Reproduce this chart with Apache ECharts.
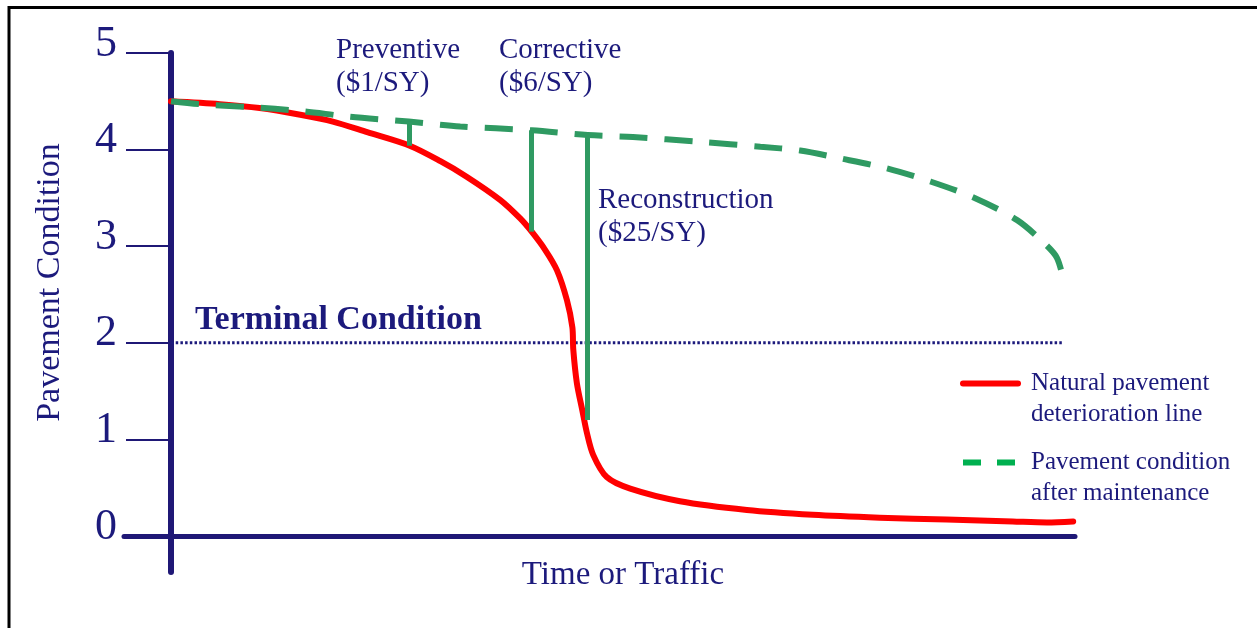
<!DOCTYPE html>
<html><head><meta charset="utf-8">
<script src="https://cdn.jsdelivr.net/npm/echarts@6/dist/echarts.min.js"></script>
<style>html,body{margin:0;padding:0;background:#fff}#c{width:1257px;height:628px}</style>
</head><body><div id="c"></div>
<script>
// ---- data ----
const yTicks = [0, 1, 2, 3, 4, 5];
const naturalX = [0, 5.4, 9.8, 14.3, 17.9, 21.7, 26.4, 29.8, 32.7, 36.4, 38.6, 39.9, 41.4, 42.7, 43.8, 44.4, 44.5, 44.9, 45.5, 46.0, 46.7, 48.2, 50.8, 56.3, 63.7, 71.0, 78.4, 85.8, 93.1, 96.9, 99.8];
const naturalY = [4.50, 4.47, 4.43, 4.36, 4.29, 4.18, 4.04, 3.88, 3.72, 3.48, 3.29, 3.15, 2.96, 2.75, 2.44, 2.16, 1.93, 1.58, 1.30, 1.07, 0.84, 0.61, 0.49, 0.36, 0.27, 0.22, 0.19, 0.17, 0.15, 0.14, 0.15];
const maintainedX = [0, 3.2, 8.7, 14.3, 19.8, 26.3, 32.0, 39.9, 46.1, 51.1, 58.5, 65.2, 69.6, 74.0, 79.0, 84.0, 88.9, 93.6, 96.5, 98.0, 98.8];
const maintainedY = [4.50, 4.47, 4.44, 4.40, 4.34, 4.29, 4.24, 4.20, 4.15, 4.13, 4.08, 4.03, 3.99, 3.91, 3.81, 3.67, 3.50, 3.27, 3.04, 2.88, 2.62];
const treatmentNames = ['Preventive', 'Corrective', 'Reconstruction'];
const treatmentCosts = ['($1/SY)', '($6/SY)', '($25/SY)'];
const treatmentX = [26.3, 39.9, 46.1];
const treatmentFrom = [4.04, 3.15, 1.20];
const treatmentTo = [4.29, 4.20, 4.15];
const terminalValue = 2;
const terminalX = [0, 98.6];
const seriesNames = ['Natural pavement\ndeterioration line', 'Pavement condition\nafter maintenance'];

// ---- chart ----
const NAVY = '#1c1a7c';
const AXIS = '#1f1876';
const RED = '#ff0000';
const GREEN = '#2f9a62';
const SERIF = "'Liberation Serif','DejaVu Serif',serif";

const zip = (xs, ys) => xs.map((x, i) => [x, ys[i]]);
const chart = echarts.init(document.getElementById('c'), null, {renderer: 'canvas'});

const legendBase = {
  orient: 'vertical', left: 960, padding: 0, itemWidth: 55, itemHeight: 10, selectedMode: false,
  itemStyle: {opacity: 0},
  formatter: name => '\n' + name,
  textStyle: {fontFamily: SERIF, fontSize: 25, color: NAVY, lineHeight: 31, padding: [0, 0, 0, 8]}
};

chart.setOption({
  animation: false,
  backgroundColor: '#fff',
  grid: {left: 124, right: 182, top: 53, bottom: 56, containLabel: false, outerBoundsMode: 'none'},
  xAxis: {
    type: 'value', min: -5.2, max: 100,
    name: 'Time or Traffic', nameLocation: 'middle', nameGap: -13, nameMoveOverlap: false,
    nameTextStyle: {fontFamily: SERIF, fontSize: 33, color: NAVY, verticalAlign: 'top', padding: [0, 0, 0, 47]},
    axisLine: {onZero: true, lineStyle: {color: AXIS, width: 5}},
    axisTick: {show: false}, axisLabel: {show: false}, splitLine: {show: false}
  },
  yAxis: {
    type: 'value', min: -0.3727, max: 5,
    name: 'Pavement Condition', nameLocation: 'middle', nameGap: 57, nameRotate: 90, nameMoveOverlap: false,
    nameTextStyle: {fontFamily: SERIF, fontSize: 34, color: NAVY, padding: [0, 0, 0, 60]},
    axisLine: {show: true, onZero: true, lineStyle: {color: AXIS, width: 6}},
    axisTick: {show: true, length: 45, customValues: yTicks, lineStyle: {color: AXIS, width: 2}},
    axisLabel: {customValues: yTicks, margin: 7, fontFamily: SERIF, fontSize: 44, color: NAVY,
      verticalAlign: 'bottom', lineHeight: 18},
    splitLine: {show: false}
  },
  legend: [
    Object.assign({}, legendBase, {top: 337, data: [{name: seriesNames[0], lineStyle: {color: RED, width: 6, type: 'solid'}}]}),
    Object.assign({}, legendBase, {top: 416, data: [{name: seriesNames[1], lineStyle: {color: '#00b050', width: 6, type: [18, 16]}}]})
  ],
  series: [
    {
      name: 'Terminal Condition', type: 'line', symbol: 'none', silent: true, z: 1,
      data: terminalX.map(x => [x, terminalValue]),
      lineStyle: {color: NAVY, width: 3, type: [2.5, 2.2]}
    },
    {
      name: seriesNames[0], type: 'line', symbol: 'none', smooth: 0.3, z: 3,
      data: zip(naturalX, naturalY),
      lineStyle: {color: RED, width: 6, cap: 'round', join: 'round'}
    },
    {
      name: seriesNames[1], type: 'line', symbol: 'none', smooth: 0.3, z: 4,
      data: zip(maintainedX, maintainedY),
      lineStyle: {color: GREEN, width: 6, type: [28, 17], cap: 'butt'},
      markLine: {
        silent: true, symbol: ['none', 'none'], label: {show: false},
        lineStyle: {color: GREEN, width: 5, type: 'solid'},
        data: treatmentX.map((x, i) => [{coord: [x, treatmentFrom[i]]}, {coord: [x, treatmentTo[i]]}])
      }
    }
  ],
  graphic: [
    {type: 'rect', shape: {x: 9, y: 7.5, width: 1320, height: 700}, style: {fill: null, stroke: '#000', lineWidth: 3}, silent: true},
    {type: 'text', left: 195, top: 303, style: {text: 'Terminal Condition', font: 'bold 34px ' + SERIF, fill: NAVY}},
    {type: 'text', left: 336, top: 34, style: {text: treatmentNames[0] + '\n' + treatmentCosts[0], font: '29px ' + SERIF, fill: NAVY, lineHeight: 33}},
    {type: 'text', left: 499, top: 34, style: {text: treatmentNames[1] + '\n' + treatmentCosts[1], font: '29px ' + SERIF, fill: NAVY, lineHeight: 33}},
    {type: 'text', left: 598, top: 184, style: {text: treatmentNames[2] + '\n' + treatmentCosts[2], font: '29px ' + SERIF, fill: NAVY, lineHeight: 33}}
  ]
});
</script></body></html>
